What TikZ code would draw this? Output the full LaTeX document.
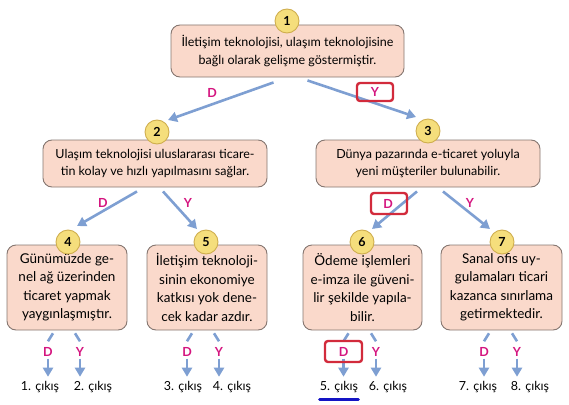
\documentclass[tikz,border=0pt]{standalone}
\usepackage{fontspec}
\setmainfont{Lato}
\usetikzlibrary{arrows.meta}
\definecolor{boxfill}{HTML}{FAD9CB}
\definecolor{boxline}{HTML}{857670}
\definecolor{dotfill}{HTML}{F5DE7C}
\definecolor{dotline}{HTML}{CFAE4E}
\definecolor{flowblue}{HTML}{7E9FD2}
\definecolor{dymag}{HTML}{D4157F}
\definecolor{framered}{HTML}{D22B3C}
\definecolor{lineblue}{HTML}{1414C4}

\begin{document}
\begin{tikzpicture}[x=1pt,y=-1pt,
  stepbox/.style={draw=boxline,fill=boxfill,line width=0.9pt,rounded corners=9pt,align=center,inner sep=0pt,font=\fontsize{12.5}{17.5}\selectfont},
  smallbox/.style={stepbox,minimum height=85pt,font=\fontsize{13.5}{18.5}\selectfont},
  numdot/.style={circle,draw=dotline,fill=dotfill,line width=0.9pt,minimum size=24pt,inner sep=0pt,font=\bfseries\fontsize{12.5}{14}\selectfont},
  flow/.style={draw=flowblue,line width=2.6pt,-{Triangle[length=9pt,width=10pt]}},
  stub/.style={draw=flowblue,line width=2.6pt},
  dy/.style={text=dymag,inner sep=0pt,font=\bfseries\fontsize{12.5}{14}\selectfont},
  exitlbl/.style={inner sep=0pt,font=\fontsize{12.5}{14}\selectfont},
  redframe/.style={draw=framered,line width=2.4pt,rounded corners=3pt}]
\path[use as bounding box] (0,0) rectangle (569,404);

\node[stepbox,minimum width=233pt,minimum height=52pt] (b1) at (287.5,51) {İletişim teknolojisi, ulaşım teknolojisine\\bağlı olarak gelişme göstermiştir.};
\node[numdot] (c1) at (287,21) {1};
\node[stepbox,minimum width=224pt,minimum height=47pt] (b2) at (155,163.5) {Ulaşım teknolojisi uluslararası ticare-\\tin kolay ve hızlı yapılmasını sağlar.};
\node[numdot] (c2) at (157,132) {2};
\node[stepbox,minimum width=224pt,minimum height=47pt] (b3) at (428,163.5) {Dünya pazarında e-ticaret yoluyla\\yeni müşteriler bulunabilir.};
\node[numdot] (c3) at (428,131) {3};

\node[smallbox,minimum width=120pt] (b4) at (67,287.5) {Günümüzde ge-\\nel ağ üzerinden\\ticaret yapmak\\yaygınlaşmıştır.};
\node[numdot] (c4) at (68,242) {4};
\node[smallbox,minimum width=120pt] (b5) at (207,287.5) {İletişim teknoloji-\\sinin ekonomiye\\katkısı yok dene-\\cek kadar azdır.};
\node[numdot] (c5) at (206,242) {5};
\node[smallbox,minimum width=119pt] (b6) at (362.5,287.5) {Ödeme işlemleri\\e-imza ile güveni-\\lir şekilde yapıla-\\bilir.};
\node[numdot] (c6) at (362,242) {6};
\node[smallbox,minimum width=121pt] (b7) at (501.5,287.5) {Sanal ofis uy-\\gulamaları ticari\\kazanca sınırlama\\getirmektedir.};
\node[numdot] (c7) at (502,242) {7};

\draw[flow] ([xshift=-14pt,yshift=-5pt]b1.south) -- ([shift={(11pt,12pt)}]c2.center);
\node[dy] (d1) at (212,93) {D};
\draw[flow] ([xshift=20pt,yshift=-3pt]b1.south) -- ([shift={(-12pt,14pt)}]c3.center);
\node[dy] (y1) at (375,92) {Y};
\draw[redframe] (357,83) rectangle (393,101);

\draw[flow] ([xshift=-18pt,yshift=-4pt]b2.south) -- ([shift={(9pt,16pt)}]c4.center);
\node[dy] (d2) at (103,203) {D};
\draw[flow] ([xshift=8pt,yshift=-4pt]b2.south) -- ([shift={(-9pt,13pt)}]c5.center);
\node[dy] (y2) at (188,203) {Y};

\draw[flow] ([xshift=-11pt,yshift=-4pt]b3.south) -- ([shift={(10pt,13pt)}]c6.center);
\node[dy] (d3) at (388,204) {D};
\draw[redframe] (371,193) rectangle (407,214);
\draw[flow] ([xshift=15pt,yshift=-4pt]b3.south) -- ([shift={(-12pt,13pt)}]c7.center);
\node[dy] (y3) at (470,203) {Y};

\node[dy] (d4) at (48,352) {D};
\node[dy] (y4) at (80,352) {Y};
\node[exitlbl] (x1) at (40,387) {1. çıkış};
\node[exitlbl] (x2) at (93,387) {2. çıkış};
\draw[stub] ([xshift=5pt,yshift=14pt]d4.north) -- ([yshift=6pt]d4.north);
\draw[stub] ([xshift=-5pt,yshift=14pt]y4.north) -- ([yshift=6pt]y4.north);
\draw[flow] ([yshift=-2pt]d4.south) -- ([yshift=-20pt]d4.south);
\draw[flow] ([yshift=-2pt]y4.south) -- ([yshift=-20pt]y4.south);

\node[dy] (d5) at (187,352) {D};
\node[dy] (y5) at (219,352) {Y};
\node[exitlbl] (x3) at (183,387) {3. çıkış};
\node[exitlbl] (x4) at (232,387) {4. çıkış};
\draw[stub] ([xshift=5pt,yshift=14pt]d5.north) -- ([yshift=6pt]d5.north);
\draw[stub] ([xshift=-5pt,yshift=14pt]y5.north) -- ([yshift=6pt]y5.north);
\draw[flow] ([yshift=-2pt]d5.south) -- ([yshift=-20pt]d5.south);
\draw[flow] ([yshift=-2pt]y5.south) -- ([yshift=-20pt]y5.south);

\node[dy] (d6) at (343.5,352) {D};
\node[dy] (y6) at (376,352) {Y};
\node[exitlbl] (x5) at (339,387) {5. çıkış};
\node[exitlbl] (x6) at (388,387) {6. çıkış};
\draw[stub] ([xshift=5pt,yshift=14pt]d6.north) -- ([yshift=6pt]d6.north);
\draw[stub] ([xshift=-5pt,yshift=14pt]y6.north) -- ([yshift=6pt]y6.north);
\draw[flow] ([yshift=-2pt]d6.south) -- ([yshift=-20pt]d6.south);
\draw[flow] ([yshift=-2pt]y6.south) -- ([yshift=-20pt]y6.south);
\draw[redframe] (325,341) rectangle (362,362);
\draw[lineblue,line width=3pt,line cap=round] ([yshift=-7pt]x5.south west) -- ([yshift=-7pt]x5.south east);

\node[dy] (d7) at (484,352) {D};
\node[dy] (y7) at (517,352) {Y};
\node[exitlbl] (x7) at (478,387) {7. çıkış};
\node[exitlbl] (x8) at (530,387) {8. çıkış};
\draw[stub] ([xshift=5pt,yshift=14pt]d7.north) -- ([yshift=6pt]d7.north);
\draw[stub] ([xshift=-5pt,yshift=14pt]y7.north) -- ([yshift=6pt]y7.north);
\draw[flow] ([yshift=-2pt]d7.south) -- ([yshift=-20pt]d7.south);
\draw[flow] ([yshift=-2pt]y7.south) -- ([yshift=-20pt]y7.south);
\end{tikzpicture}
\end{document}
